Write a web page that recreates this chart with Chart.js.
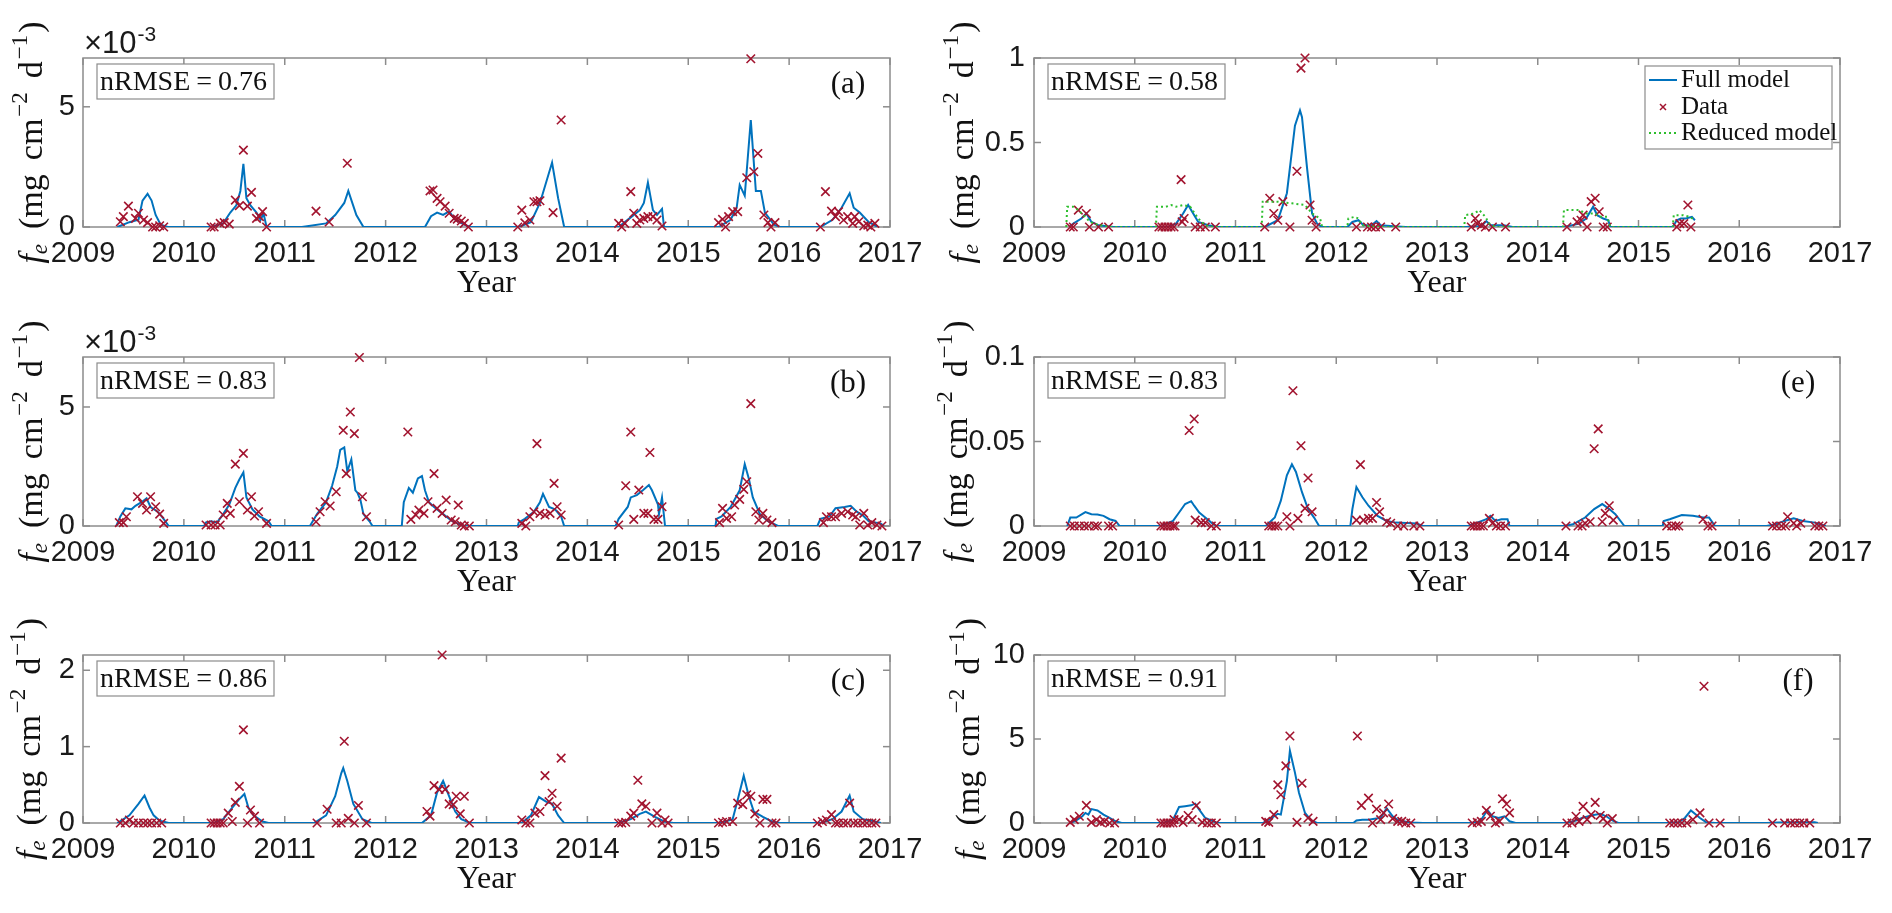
<!DOCTYPE html>
<html>
<head>
<meta charset="utf-8">
<title>Model vs data, six sites</title>
<script src="https://cdn.jsdelivr.net/npm/chart.js@4.4.0/dist/chart.umd.min.js"></script>
<style>
  body { margin: 0; background: #fff; }
  #fig { position: relative; width: 1892px; height: 913px; overflow: hidden; background: #fff; }
  #fig canvas { position: absolute; }
</style>
</head>
<body>
<div id="fig">
  <canvas id="c_a" width="946" height="298" style="left:0px;top:0px"></canvas>
  <canvas id="c_b" width="946" height="298" style="left:0px;top:298px"></canvas>
  <canvas id="c_c" width="946" height="317" style="left:0px;top:596px"></canvas>
  <canvas id="c_d" width="976" height="298" style="left:916px;top:0px"></canvas>
  <canvas id="c_e" width="976" height="298" style="left:916px;top:298px"></canvas>
  <canvas id="c_f" width="976" height="317" style="left:916px;top:596px"></canvas>
</div>
<script>
// x ticks shared by every panel
var year_ticks = [2009, 2010, 2011, 2012, 2013, 2014, 2015, 2016, 2017];

// y ticks per panel ((a) and (b) are in units of 1e-3)
var yticks_a = [0, 5];
var yticks_b = [0, 5];
var yticks_c = [0, 1, 2];
var yticks_d = [0, 0.5, 1];
var yticks_e = [0, 0.05, 0.1];
var yticks_f = [0, 5, 10];

// [year, f_e] pairs
// (a) x 1e-3
var model_a = [[2009.34,0],[2009.46,0.2],[2009.55,0.3],[2009.59,1.1],[2009.64,1.38],[2009.68,1.1],[2009.72,0.5],[2009.77,0.1],[2009.84,0],
  [2010.27,0],[2010.39,0.15],[2010.46,0.6],[2010.52,0.9],[2010.56,1.5],[2010.59,2.63],[2010.62,1.2],[2010.66,0.9],[2010.72,0.6],[2010.76,0.3],[2010.79,0.55],[2010.82,0],
  [2011.17,0],[2011.41,0.15],[2011.50,0.5],[2011.59,1.0],[2011.63,1.5],[2011.71,0.5],[2011.78,0],
  [2012.39,0],[2012.45,0.45],[2012.51,0.6],[2012.57,0.5],[2012.63,0.65],[2012.69,0.3],[2012.78,0.1],[2012.84,0],
  [2013.32,0],[2013.44,0.2],[2013.53,1.0],[2013.65,2.68],[2013.71,1.2],[2013.77,0],
  [2014.31,0],[2014.43,0.4],[2014.52,0.7],[2014.56,1.0],[2014.60,1.85],[2014.65,0.7],[2014.69,0.5],[2014.74,0.75],[2014.76,0],
  [2015.30,0],[2015.42,0.3],[2015.48,0.8],[2015.51,1.75],[2015.56,1.3],[2015.62,4.45],[2015.67,1.5],[2015.72,1.5],[2015.76,0.6],[2015.85,0.1],[2015.91,0],
  [2016.31,0],[2016.43,0.3],[2016.52,0.8],[2016.60,1.4],[2016.64,0.8],[2016.70,0.6],[2016.79,0.2],[2016.88,0]];
var data_a = [[2009.37,0.22],[2009.40,0.43],[2009.45,0.87],[2009.52,0.36],[2009.55,0.57],[2009.60,0.29],[2009.64,0.18],[2009.69,0],[2009.72,0],[2009.76,0.05],[2009.80,0],
  [2010.27,0],[2010.30,0],[2010.36,0.15],[2010.40,0.18],[2010.45,0.12],[2010.51,1.12],[2010.55,0.89],[2010.59,3.2],[2010.63,0.87],[2010.67,1.44],[2010.72,0.36],[2010.75,0.43],[2010.78,0.64],[2010.82,0],
  [2011.31,0.66],[2011.44,0.21],[2011.62,2.65],
  [2012.44,1.5],[2012.47,1.54],[2012.51,1.19],[2012.54,1.05],[2012.59,0.87],[2012.63,0.57],[2012.68,0.36],[2012.71,0.33],[2012.75,0.25],[2012.78,0.15],[2012.82,0],
  [2013.31,0],[2013.35,0.7],[2013.38,0.17],[2013.43,0.29],[2013.47,1.05],[2013.50,1.05],[2013.53,1.09],[2013.66,0.6],[2013.74,4.45],
  [2014.31,0.15],[2014.34,0],[2014.37,0.15],[2014.43,1.47],[2014.46,0.57],[2014.49,0.15],[2014.52,0.29],[2014.56,0.36],[2014.60,0.43],[2014.65,0.43],[2014.69,0.29],[2014.74,0.04],
  [2015.30,0.18],[2015.34,0.32],[2015.37,0],[2015.40,0.43],[2015.44,0.64],[2015.49,0.64],[2015.58,2.05],[2015.62,7.0],[2015.65,2.3],[2015.69,3.06],[2015.75,0.5],[2015.79,0.18],[2015.82,0],[2015.86,0.18],
  [2016.31,0],[2016.36,1.47],[2016.42,0.66],[2016.46,0.43],[2016.49,0.64],[2016.54,0.29],[2016.58,0.43],[2016.63,0.15],[2016.65,0.43],[2016.69,0.22],[2016.74,0.04],[2016.78,0.08],[2016.81,0],[2016.85,0.15]];

// (b) x 1e-3
var model_b = [[2009.33,0],[2009.37,0.4],[2009.42,0.74],[2009.48,0.7],[2009.52,0.85],[2009.58,1.0],[2009.63,1.16],[2009.67,0.8],[2009.74,0.6],[2009.79,0.35],[2009.85,0],
  [2010.20,0],[2010.22,0.15],[2010.27,0.2],[2010.33,0.15],[2010.39,0.5],[2010.45,0.9],[2010.51,1.6],[2010.55,1.95],[2010.59,2.25],[2010.62,1.2],[2010.68,0.7],[2010.75,0.4],[2010.84,0.2],[2010.87,0],
  [2011.25,0],[2011.27,0.15],[2011.32,0.5],[2011.41,1.0],[2011.47,1.7],[2011.52,2.5],[2011.55,3.2],[2011.59,3.3],[2011.62,2.3],[2011.66,2.8],[2011.70,1.5],[2011.72,1.4],[2011.75,1.1],[2011.78,0.5],[2011.84,0.2],[2011.87,0],
  [2012.16,0],[2012.18,1.0],[2012.23,1.6],[2012.27,1.4],[2012.32,2.0],[2012.36,2.1],[2012.39,1.5],[2012.43,1.0],[2012.48,0.8],[2012.57,0.5],[2012.66,0.2],[2012.72,0.1],[2012.78,0],
  [2013.31,0],[2013.32,0.15],[2013.38,0.3],[2013.47,0.6],[2013.53,1.0],[2013.56,1.35],[2013.62,0.8],[2013.68,0.7],[2013.74,0.4],[2013.77,0],
  [2014.28,0],[2014.31,0.3],[2014.40,0.8],[2014.43,1.2],[2014.49,1.3],[2014.55,1.5],[2014.61,1.72],[2014.64,1.5],[2014.70,0.9],[2014.71,0.5],[2014.74,1.2],[2014.77,0],
  [2015.27,0],[2015.28,0.3],[2015.33,0.4],[2015.42,0.8],[2015.51,1.5],[2015.56,2.6],[2015.60,2.0],[2015.64,1.2],[2015.71,0.5],[2015.79,0.2],[2015.89,0],
  [2016.28,0],[2016.31,0.3],[2016.40,0.4],[2016.46,0.75],[2016.55,0.8],[2016.61,0.85],[2016.67,0.6],[2016.73,0.45],[2016.79,0.2],[2016.91,0.1],[2016.94,0]];
var data_b = [[2009.36,0.14],[2009.40,0.14],[2009.43,0.39],[2009.54,1.23],[2009.59,0.95],[2009.63,0.67],[2009.67,1.23],[2009.72,0.81],[2009.76,0.5],[2009.80,0.11],
  [2010.22,0.04],[2010.27,0.04],[2010.31,0.04],[2010.36,0.04],[2010.39,0.46],[2010.43,0.95],[2010.46,0.53],[2010.51,2.6],[2010.55,1.02],[2010.59,3.05],[2010.63,0.67],[2010.67,1.23],[2010.70,0.42],[2010.74,0.6],[2010.82,0.11],
  [2011.31,0.18],[2011.35,0.6],[2011.40,1.02],[2011.45,0.84],[2011.51,1.44],[2011.58,4.02],[2011.61,2.2],[2011.65,4.79],[2011.69,3.88],[2011.74,7.08],[2011.77,1.23],[2011.81,0.39],
  [2012.22,3.95],[2012.25,0.28],[2012.30,0.46],[2012.33,0.67],[2012.38,0.53],[2012.42,1.02],[2012.48,2.2],[2012.51,0.74],[2012.56,0.53],[2012.60,1.09],[2012.65,0.25],[2012.69,0.18],[2012.72,0.88],[2012.75,0.04],[2012.78,0],[2012.83,0],
  [2013.35,0.11],[2013.39,0],[2013.43,0.39],[2013.47,0.6],[2013.50,3.46],[2013.53,0.53],[2013.58,0.46],[2013.63,0.53],[2013.67,1.79],[2013.70,0.81],[2013.74,0.46],
  [2014.31,0.04],[2014.38,1.69],[2014.43,3.95],[2014.46,0.28],[2014.51,1.51],[2014.56,0.53],[2014.60,0.53],[2014.62,3.09],[2014.66,0.28],[2014.70,0.28],[2014.74,0.81],
  [2015.31,0.14],[2015.34,0.74],[2015.38,0.32],[2015.43,0.39],[2015.46,0.88],[2015.51,1.12],[2015.55,1.54],[2015.58,1.86],[2015.62,5.14],[2015.67,0.6],[2015.70,0.25],[2015.74,0.53],[2015.78,0.25],[2015.83,0.14],
  [2016.34,0.14],[2016.37,0.39],[2016.42,0.39],[2016.46,0.39],[2016.52,0.53],[2016.58,0.6],[2016.63,0.46],[2016.66,0.39],[2016.70,0.04],[2016.74,0.53],[2016.78,0.04],[2016.82,0.14],[2016.87,0.04],[2016.92,0]];

// (c)
var model_c = [[2009.34,0],[2009.46,0.1],[2009.55,0.25],[2009.61,0.36],[2009.66,0.2],[2009.70,0.1],[2009.76,0.03],[2009.85,0],
  [2010.30,0],[2010.39,0.05],[2010.48,0.2],[2010.54,0.3],[2010.60,0.38],[2010.64,0.2],[2010.69,0.1],[2010.78,0.02],[2010.84,0],
  [2011.29,0],[2011.41,0.1],[2011.50,0.35],[2011.56,0.65],[2011.58,0.72],[2011.62,0.55],[2011.68,0.25],[2011.77,0.05],[2011.86,0],
  [2012.36,0],[2012.45,0.1],[2012.51,0.4],[2012.57,0.55],[2012.63,0.35],[2012.69,0.15],[2012.75,0.05],[2012.84,0],
  [2013.35,0],[2013.44,0.1],[2013.52,0.34],[2013.59,0.28],[2013.65,0.25],[2013.71,0.1],[2013.77,0],
  [2014.31,0],[2014.43,0.05],[2014.52,0.12],[2014.58,0.15],[2014.67,0.08],[2014.76,0.02],[2014.85,0],
  [2015.32,0],[2015.44,0.05],[2015.49,0.3],[2015.55,0.62],[2015.60,0.35],[2015.65,0.15],[2015.74,0.08],[2015.83,0.02],[2015.91,0],
  [2016.31,0],[2016.43,0.05],[2016.52,0.15],[2016.60,0.36],[2016.64,0.15],[2016.73,0.05],[2016.82,0.03],[2016.91,0]];
var data_c = [[2009.37,0],[2009.42,0],[2009.46,0.04],[2009.50,0],[2009.55,0],[2009.60,0],[2009.64,0],[2009.68,0],[2009.73,0],[2009.78,0],
  [2010.27,0],[2010.30,0],[2010.33,0],[2010.36,0],[2010.39,0],[2010.44,0.13],[2010.48,0.02],[2010.51,0.27],[2010.55,0.48],[2010.59,1.22],[2010.63,0],[2010.66,0.17],[2010.70,0.09],[2010.75,0],
  [2011.32,0],[2011.42,0.18],[2011.51,0],[2011.56,0],[2011.59,1.07],[2011.63,0.06],[2011.69,0],[2011.73,0.23],[2011.81,0],
  [2012.41,0.15],[2012.44,0.09],[2012.48,0.49],[2012.53,0.44],[2012.56,2.2],[2012.59,0.44],[2012.63,0.25],[2012.67,0.24],[2012.70,0.35],[2012.74,0.12],[2012.78,0.35],[2012.83,0],
  [2013.35,0.04],[2013.39,0],[2013.43,0],[2013.48,0.13],[2013.53,0.15],[2013.58,0.62],[2013.62,0.28],[2013.65,0.39],[2013.70,0.22],[2013.74,0.85],
  [2014.31,0],[2014.34,0],[2014.38,0.01],[2014.43,0.09],[2014.46,0.13],[2014.50,0.56],[2014.54,0.25],[2014.58,0.22],[2014.64,0],[2014.69,0.13],[2014.74,0],[2014.77,0.04],[2014.80,0],
  [2015.30,0],[2015.34,0.01],[2015.38,0.02],[2015.44,0.02],[2015.49,0.26],[2015.54,0.24],[2015.58,0.37],[2015.62,0.35],[2015.66,0.12],[2015.71,0],[2015.74,0.31],[2015.78,0.31],[2015.83,0],[2015.87,0],
  [2016.28,0],[2016.33,0.02],[2016.37,0.04],[2016.42,0.11],[2016.46,0],[2016.49,0],[2016.54,0],[2016.58,0],[2016.60,0.26],[2016.64,0],[2016.68,0],[2016.73,0],[2016.77,0],[2016.82,0],[2016.86,0]];

// (d)
var model_d = [[2009.35,0],[2009.39,0.02],[2009.47,0.05],[2009.52,0.08],[2009.57,0.03],[2009.64,0.01],[2009.79,0],
  [2010.33,0],[2010.41,0.02],[2010.48,0.08],[2010.53,0.13],[2010.58,0.08],[2010.63,0.03],[2010.73,0.01],[2010.82,0],
  [2011.29,0],[2011.42,0.04],[2011.51,0.2],[2011.59,0.6],[2011.64,0.69],[2011.66,0.65],[2011.71,0.35],[2011.76,0.08],[2011.81,0.02],[2011.86,0],
  [2012.11,0],[2012.16,0.03],[2012.22,0.04],[2012.27,0.01],[2012.35,0.01],[2012.40,0.035],[2012.44,0.01],[2012.57,0.005],[2012.69,0],
  [2013.29,0],[2013.38,0.005],[2013.44,0.005],[2013.49,0.035],[2013.53,0.01],[2013.66,0.01],[2013.75,0],
  [2014.26,0],[2014.41,0.02],[2014.48,0.05],[2014.55,0.12],[2014.59,0.07],[2014.65,0.05],[2014.70,0.04],[2014.72,0],
  [2015.34,0],[2015.38,0.04],[2015.42,0.05],[2015.47,0.05],[2015.53,0.06],[2015.56,0.04]];
var reduced_d = [[2009.32,0],[2009.33,0.12],[2009.39,0.12],[2009.44,0.1],[2009.49,0.07],[2009.54,0.04],[2009.59,0.02],[2009.74,0],
  [2010.21,0],[2010.22,0.12],[2010.31,0.12],[2010.36,0.13],[2010.41,0.12],[2010.48,0.13],[2010.55,0.12],[2010.63,0.05],[2010.70,0.01],[2010.78,0],
  [2011.26,0],[2011.27,0.15],[2011.42,0.15],[2011.56,0.14],[2011.69,0.13],[2011.76,0.08],[2011.84,0.05],[2011.86,0],
  [2012.11,0],[2012.12,0.05],[2012.18,0.06],[2012.22,0.05],[2012.26,0.01],[2012.39,0],
  [2013.27,0],[2013.28,0.07],[2013.37,0.08],[2013.42,0.1],[2013.48,0.06],[2013.52,0.02],[2013.58,0],
  [2014.25,0],[2014.26,0.1],[2014.41,0.1],[2014.48,0.08],[2014.56,0.08],[2014.63,0.06],[2014.69,0.06],[2014.72,0],
  [2015.34,0],[2015.35,0.07],[2015.44,0.07],[2015.51,0.06],[2015.56,0.04]];
var data_d = [[2009.36,0],[2009.39,0],[2009.44,0.1],[2009.52,0.08],[2009.55,0],[2009.64,0],[2009.74,0],
  [2010.24,0],[2010.27,0],[2010.30,0],[2010.33,0],[2010.36,0],[2010.39,0],[2010.46,0.28],[2010.47,0.03],[2010.49,0.05],[2010.60,0],[2010.65,0],[2010.70,0],[2010.80,0],
  [2011.29,0],[2011.34,0.17],[2011.38,0.08],[2011.42,0.04],[2011.47,0.15],[2011.54,0],[2011.61,0.33],[2011.65,0.94],[2011.69,1.0],[2011.74,0.13],[2011.76,0.04],[2011.80,0],
  [2012.20,0],[2012.31,0],[2012.35,0],[2012.39,0],[2012.44,0],[2012.59,0],
  [2013.34,0],[2013.38,0.05],[2013.40,0.02],[2013.44,0.01],[2013.48,0],[2013.55,0],[2013.68,0],
  [2014.29,0],[2014.39,0.03],[2014.43,0.04],[2014.45,0.07],[2014.49,0],[2014.53,0.15],[2014.57,0.17],[2014.61,0.09],[2014.65,0],[2014.69,0],
  [2015.38,0],[2015.41,0.02],[2015.45,0.02],[2015.49,0.13],[2015.52,0]];

// (e)
var model_e = [[2009.33,0],[2009.36,0.005],[2009.42,0.005],[2009.51,0.0082],[2009.57,0.007],[2009.63,0.0068],[2009.69,0.006],[2009.75,0.004],[2009.81,0.003],[2009.85,0],
  [2010.26,0],[2010.38,0.003],[2010.44,0.008],[2010.50,0.013],[2010.56,0.0147],[2010.59,0.012],[2010.64,0.008],[2010.70,0.005],[2010.76,0.002],[2010.81,0],
  [2011.30,0],[2011.39,0.005],[2011.45,0.015],[2011.51,0.03],[2011.56,0.0365],[2011.60,0.032],[2011.66,0.02],[2011.72,0.01],[2011.78,0.005],[2011.83,0],
  [2012.14,0],[2012.16,0.01],[2012.20,0.0231],[2012.26,0.017],[2012.32,0.012],[2012.41,0.006],[2012.50,0.003],[2012.59,0.002],[2012.80,0.0015],[2012.86,0],
  [2013.31,0],[2013.40,0.002],[2013.49,0.004],[2013.53,0.006],[2013.58,0.003],[2013.64,0.004],[2013.70,0.004],[2013.72,0],
  [2014.26,0],[2014.35,0.001],[2014.47,0.005],[2014.56,0.01],[2014.64,0.013],[2014.71,0.01],[2014.77,0.007],[2014.86,0],
  [2015.24,0],[2015.25,0.003],[2015.31,0.004],[2015.43,0.0065],[2015.54,0.006],[2015.64,0.005],[2015.70,0.005],[2015.76,0],
  [2016.27,0],[2016.36,0.001],[2016.45,0.003],[2016.54,0.0045],[2016.63,0.003],[2016.75,0.002],[2016.86,0]];
var data_e = [[2009.36,0],[2009.40,0],[2009.45,0],[2009.50,0],[2009.54,0],[2009.60,0],[2009.63,0],[2009.74,0],[2009.78,0],
  [2010.26,0],[2010.29,0],[2010.32,0],[2010.35,0],[2010.38,0],[2010.40,0],[2010.54,0.0565],[2010.59,0.0633],[2010.60,0.0035],[2010.66,0.002],[2010.70,0.002],[2010.76,0],[2010.81,0],
  [2011.33,0],[2011.36,0],[2011.39,0],[2011.42,0],[2011.51,0.0055],[2011.54,0],[2011.57,0.08],[2011.62,0.0045],[2011.65,0.0475],[2011.69,0.0104],[2011.72,0.0284],[2011.76,0.0084],
  [2012.20,0.0035],[2012.24,0.0363],[2012.27,0.0035],[2012.32,0.0045],[2012.36,0.0045],[2012.40,0.0139],[2012.43,0.0084],[2012.50,0.0025],[2012.54,0.0016],[2012.61,0],[2012.67,0],[2012.77,0],[2012.83,0],
  [2013.34,0],[2013.37,0],[2013.40,0],[2013.43,0],[2013.46,0],[2013.52,0.0045],[2013.55,0.0016],[2013.59,0],[2013.63,0],[2013.68,0],
  [2014.28,0],[2014.40,0],[2014.44,0],[2014.47,0.0016],[2014.52,0.0025],[2014.56,0.0457],[2014.60,0.0575],[2014.64,0.0025],[2014.67,0.0075],[2014.71,0.012],[2014.75,0.0035],
  [2015.28,0],[2015.33,0],[2015.37,0],[2015.40,0],[2015.64,0.004],[2015.69,0],[2015.73,0],
  [2016.33,0],[2016.37,0],[2016.42,0],[2016.46,0],[2016.48,0.0055],[2016.54,0.0016],[2016.57,0],[2016.61,0.0016],[2016.75,0],[2016.79,0],[2016.83,0]];

// (f)
var model_f = [[2009.36,0],[2009.42,0.15],[2009.48,0.4],[2009.51,0.6],[2009.54,0.5],[2009.57,0.83],[2009.63,0.75],[2009.69,0.5],[2009.75,0.3],[2009.81,0.1],[2009.87,0],
  [2010.29,0],[2010.38,0.2],[2010.44,0.95],[2010.50,1.0],[2010.56,1.05],[2010.60,1.15],[2010.64,0.8],[2010.70,0.3],[2010.76,0.15],[2010.82,0],
  [2011.27,0],[2011.36,0.3],[2011.42,0.55],[2011.45,0.5],[2011.51,2.5],[2011.54,4.3],[2011.59,3.0],[2011.63,1.8],[2011.69,0.6],[2011.75,0.15],[2011.81,0],
  [2012.17,0],[2012.20,0.15],[2012.26,0.2],[2012.32,0.2],[2012.38,0.25],[2012.44,0.3],[2012.50,0.88],[2012.56,0.4],[2012.62,0.15],[2012.74,0.03],[2012.86,0],
  [2013.34,0],[2013.43,0.1],[2013.50,0.78],[2013.55,0.4],[2013.61,0.3],[2013.67,0.4],[2013.72,0.1],[2013.78,0],
  [2014.29,0],[2014.38,0.15],[2014.44,0.3],[2014.53,0.45],[2014.62,0.55],[2014.68,0.4],[2014.74,0.15],[2014.80,0],
  [2015.28,0],[2015.40,0.05],[2015.46,0.3],[2015.52,0.75],[2015.56,0.55],[2015.61,0.3],[2015.67,0.05],[2015.76,0],
  [2016.27,0],[2016.39,0.03],[2016.63,0.05],[2016.75,0.04],[2016.78,0]];
var data_f = [[2009.36,0.04],[2009.40,0.2],[2009.45,0.4],[2009.52,1.05],[2009.57,0.04],[2009.62,0.2],[2009.66,0.04],[2009.70,0.1],[2009.75,0],[2009.80,0],
  [2010.26,0],[2010.29,0],[2010.32,0],[2010.35,0],[2010.38,0],[2010.39,0.2],[2010.44,0.2],[2010.48,0.04],[2010.53,0.45],[2010.57,0.2],[2010.61,1.03],[2010.67,0.04],[2010.72,0],[2010.76,0],[2010.81,0],
  [2011.30,0.1],[2011.33,0.04],[2011.38,0.5],[2011.42,2.27],[2011.45,1.68],[2011.50,3.4],[2011.54,5.18],[2011.61,0.04],[2011.66,2.37],[2011.72,0.3],[2011.77,0.1],
  [2012.21,5.18],[2012.25,1.05],[2012.32,1.48],[2012.36,0],[2012.40,0.83],[2012.44,0.2],[2012.47,0.6],[2012.52,1.13],[2012.56,0.26],[2012.61,0.1],[2012.65,0.1],[2012.69,0],[2012.74,0],
  [2013.35,0],[2013.40,0.04],[2013.44,0.1],[2013.49,0.75],[2013.53,0.4],[2013.58,0],[2013.62,0.1],[2013.65,1.44],[2013.69,1.13],[2013.72,0.6],
  [2014.29,0],[2014.34,0],[2014.38,0.4],[2014.41,0.1],[2014.45,0.99],[2014.49,0.2],[2014.53,0.5],[2014.57,1.23],[2014.62,0.45],[2014.65,0.26],[2014.69,0],[2014.74,0.26],
  [2015.31,0],[2015.35,0],[2015.39,0],[2015.43,0],[2015.48,0],[2015.54,0.2],[2015.61,0.6],[2015.65,8.14],[2015.70,0],[2015.81,0],
  [2016.33,0],[2016.45,0],[2016.51,0],[2016.55,0],[2016.60,0],[2016.64,0],[2016.70,0]];

var BLUE = '#0072BD';
var RED = '#A2142F';
var GREEN = '#2DBE2D';
var AXIS = '#8c8c8c';
var INK = '#111111';
var SERIF = '"Liberation Serif", "Times New Roman", serif';
var SANS = '"Liberation Sans", Arial, sans-serif';

Chart.defaults.font.family = SANS;

function xy(arr) {
  return arr.map(function (p) { return {x: p[0], y: p[1]}; });
}

function line(ctx, x1, y1, x2, y2) {
  ctx.beginPath(); ctx.moveTo(x1, y1); ctx.lineTo(x2, y2); ctx.stroke();
}

// y label: f_e (mg cm^-2 d^-1), drawn rotated with real sub/superscripts
function drawYLabel(ctx, cx, cy) {
  var big = '34px ' + SERIF, small = '23px ' + SERIF;
  var parts = [
    {t: 'f', f: 'italic ' + big, dy: 0, gap: 0},
    {t: 'e', f: 'italic ' + small, dy: 8, gap: 0},
    {t: '(mg', f: big, dy: 0, gap: 15},
    {t: 'cm', f: big, dy: 0, gap: 14},
    {t: '\u22122', f: small, dy: -12, gap: 2},
    {t: 'd', f: big, dy: 0, gap: 14},
    {t: '\u22121', f: small, dy: -12, gap: 2},
    {t: ')', f: big, dy: 0, gap: 2}
  ];
  var total = 0;
  parts.forEach(function (p) { ctx.font = p.f; p.w = ctx.measureText(p.t).width; total += p.w + p.gap; });
  ctx.save();
  ctx.translate(cx, cy);
  ctx.rotate(-Math.PI / 2);
  ctx.fillStyle = INK;
  ctx.textBaseline = 'middle';
  ctx.textAlign = 'left';
  var x = -total / 2;
  parts.forEach(function (p) {
    x += p.gap;
    ctx.font = p.f;
    ctx.fillText(p.t, x, p.dy);
    x += p.w;
  });
  ctx.restore();
}

function drawLegend(ctx, a) {
  var w = 187, h = 83;
  var lx = a.right - 8 - w, ly = a.top + 8;
  ctx.save();
  ctx.fillStyle = '#fff';
  ctx.fillRect(lx, ly, w, h);
  ctx.strokeStyle = AXIS; ctx.lineWidth = 1.2;
  ctx.strokeRect(lx, ly, w, h);
  ctx.font = '25px ' + SERIF;
  ctx.fillStyle = INK;
  ctx.textBaseline = 'middle';
  var rows = [14, 41, 67];
  // full model
  ctx.strokeStyle = BLUE; ctx.lineWidth = 2;
  line(ctx, lx + 4, ly + rows[0], lx + 32, ly + rows[0]);
  ctx.fillText('Full model', lx + 36, ly + rows[0]);
  // data
  ctx.strokeStyle = RED; ctx.lineWidth = 1.5;
  var mx = lx + 18, my = ly + rows[1];
  line(ctx, mx - 3, my - 3, mx + 3, my + 3);
  line(ctx, mx - 3, my + 3, mx + 3, my - 3);
  ctx.fillText('Data', lx + 36, my);
  // reduced model
  ctx.strokeStyle = GREEN; ctx.lineWidth = 2; ctx.setLineDash([2, 3]);
  line(ctx, lx + 4, ly + rows[2], lx + 32, ly + rows[2]);
  ctx.setLineDash([]);
  ctx.fillText('Reduced model', lx + 36, ly + rows[2]);
  ctx.restore();
}

// MATLAB-like box, inward ticks and text annotations
var matlabAxes = {
  id: 'matlabAxes',
  beforeDatasetsDraw: function (chart) {
    var a = chart.chartArea, ctx = chart.ctx;
    var sx = chart.scales.x, sy = chart.scales.y;
    ctx.save();
    ctx.strokeStyle = AXIS;
    ctx.lineWidth = 1.5;
    ctx.strokeRect(a.left, a.top, a.right - a.left, a.bottom - a.top);
    sx.ticks.forEach(function (t) {
      var px = sx.getPixelForValue(t.value);
      line(ctx, px, a.bottom, px, a.bottom - 7);
      line(ctx, px, a.top, px, a.top + 7);
    });
    sy.ticks.forEach(function (t) {
      var py = sy.getPixelForValue(t.value);
      line(ctx, a.left, py, a.left + 7, py);
      line(ctx, a.right, py, a.right - 7, py);
    });
    ctx.restore();
  },
  afterDraw: function (chart, args, o) {
    var a = chart.chartArea, ctx = chart.ctx;
    ctx.save();
    // x title
    ctx.fillStyle = INK;
    ctx.font = '32px ' + SERIF;
    ctx.textAlign = 'center';
    ctx.textBaseline = 'alphabetic';
    ctx.fillText('Year', (a.left + a.right) / 2, a.bottom + 65);
    // y title
    drawYLabel(ctx, o.ylx, (a.top + a.bottom) / 2);
    // exponent
    if (o.exp) {
      ctx.font = '31px ' + SANS;
      ctx.textAlign = 'left';
      ctx.fillStyle = '#1a1a1a';
      var w1 = ctx.measureText('\u00d710').width;
      ctx.fillText('\u00d710', a.left + 1, a.top - 5);
      ctx.font = '21px ' + SANS;
      ctx.fillText('-3', a.left + 2 + w1, a.top - 17);
    }
    // nRMSE box
    var bx = a.left + 14, by = a.top + 6, bw = 177, bh = 35;
    ctx.fillStyle = '#fff';
    ctx.fillRect(bx, by, bw, bh);
    ctx.strokeStyle = AXIS; ctx.lineWidth = 1.2;
    ctx.strokeRect(bx, by, bw, bh);
    ctx.fillStyle = INK;
    ctx.font = '28px ' + SERIF;
    ctx.textAlign = 'left';
    ctx.textBaseline = 'middle';
    var tx = bx + 3, ty = by + bh / 2 + 1;
    ctx.fillText('nRMSE', tx, ty);
    tx += ctx.measureText('nRMSE').width + 6;
    ctx.fillText('=', tx, ty);
    tx += ctx.measureText('=').width + 6;
    ctx.fillText(o.nrmse, tx, ty);
    // panel letter
    if (o.tag) {
      ctx.font = '31px ' + SERIF;
      ctx.textAlign = 'center';
      ctx.fillText(o.tag, a.right - 42, a.top + 27);
    }
    if (o.legend) drawLegend(ctx, a);
    ctx.restore();
  }
};

var panels = [
  {id: 'c_a', model: model_a, data: data_a, ymax: 7.03, yticks: yticks_a, nrmse: '0.76', tag: '(a)', exp: true, ylx: 33,
   left: 83, right: 890, top: 58, bottom: 227, ypad: 8},
  {id: 'c_b', model: model_b, data: data_b, ymax: 7.1, yticks: yticks_b, nrmse: '0.83', tag: '(b)', exp: true, ylx: 33,
   left: 83, right: 890, top: 59, bottom: 228, ypad: 8},
  {id: 'c_c', model: model_c, data: data_c, ymax: 2.2, yticks: yticks_c, nrmse: '0.86', tag: '(c)', exp: false, ylx: 31,
   left: 83, right: 890, top: 59, bottom: 227, ypad: 8},
  {id: 'c_d', model: model_d, data: data_d, reduced: reduced_d, ymax: 1, yticks: yticks_d, nrmse: '0.58', tag: '', exp: false, ylx: 48, legend: true,
   left: 118, right: 924, top: 58, bottom: 227, ypad: 9},
  {id: 'c_e', model: model_e, data: data_e, ymax: 0.1, yticks: yticks_e, nrmse: '0.83', tag: '(e)', exp: false, ylx: 42,
   left: 118, right: 924, top: 59, bottom: 228, ypad: 9},
  {id: 'c_f', model: model_f, data: data_f, ymax: 10, yticks: yticks_f, nrmse: '0.91', tag: '(f)', exp: false, ylx: 54,
   left: 118, right: 924, top: 59, bottom: 227, ypad: 9}
];

function makeChart(p) {
  var canvas = document.getElementById(p.id);
  var W = canvas.width, H = canvas.height;
  var datasets = [
    {type: 'scatter', label: 'Data', data: xy(p.data), pointStyle: 'crossRot', pointRadius: 6,
     borderColor: RED, backgroundColor: RED, pointBorderWidth: 1.6, clip: false, order: 1},
    {type: 'line', label: 'Full model', data: xy(p.model), borderColor: BLUE, borderWidth: 2,
     pointRadius: 0, tension: 0, fill: false, order: 2}
  ];
  if (p.reduced) {
    datasets.push({type: 'line', label: 'Reduced model', data: xy(p.reduced), borderColor: GREEN, borderWidth: 2,
      borderDash: [2, 3], pointRadius: 0, tension: 0, fill: false, order: 0});
  }
  return new Chart(canvas, {
    type: 'scatter',
    data: {datasets: datasets},
    options: {
      responsive: false,
      animation: false,
      events: [],
      layout: {padding: {left: 0, top: p.top, right: W - p.right, bottom: 0}},
      plugins: {
        legend: {display: false},
        tooltip: {enabled: false},
        matlabAxes: {nrmse: p.nrmse, tag: p.tag, exp: p.exp, ylx: p.ylx, legend: !!p.legend}
      },
      scales: {
        x: {
          type: 'linear', min: 2009, max: 2017,
          grid: {display: false, drawTicks: false}, border: {display: false},
          afterBuildTicks: function (s) { s.ticks = year_ticks.map(function (v) { return {value: v}; }); },
          afterFit: function (s) { s.height = H - p.bottom; },
          ticks: {padding: 10, color: '#1a1a1a', font: {size: 29}, maxRotation: 0, autoSkip: false,
                  callback: function (v) { return String(v); }}
        },
        y: {
          type: 'linear', min: 0, max: p.ymax,
          grid: {display: false, drawTicks: false}, border: {display: false},
          afterBuildTicks: function (s) { s.ticks = p.yticks.map(function (v) { return {value: v}; }); },
          afterFit: function (s) { s.width = p.left; },
          ticks: {padding: p.ypad, color: '#1a1a1a', font: {size: 29},
                  callback: function (v) { return String(v); }}
        }
      }
    },
    plugins: [matlabAxes]
  });
}

panels.forEach(makeChart);
</script>
</body>
</html>
